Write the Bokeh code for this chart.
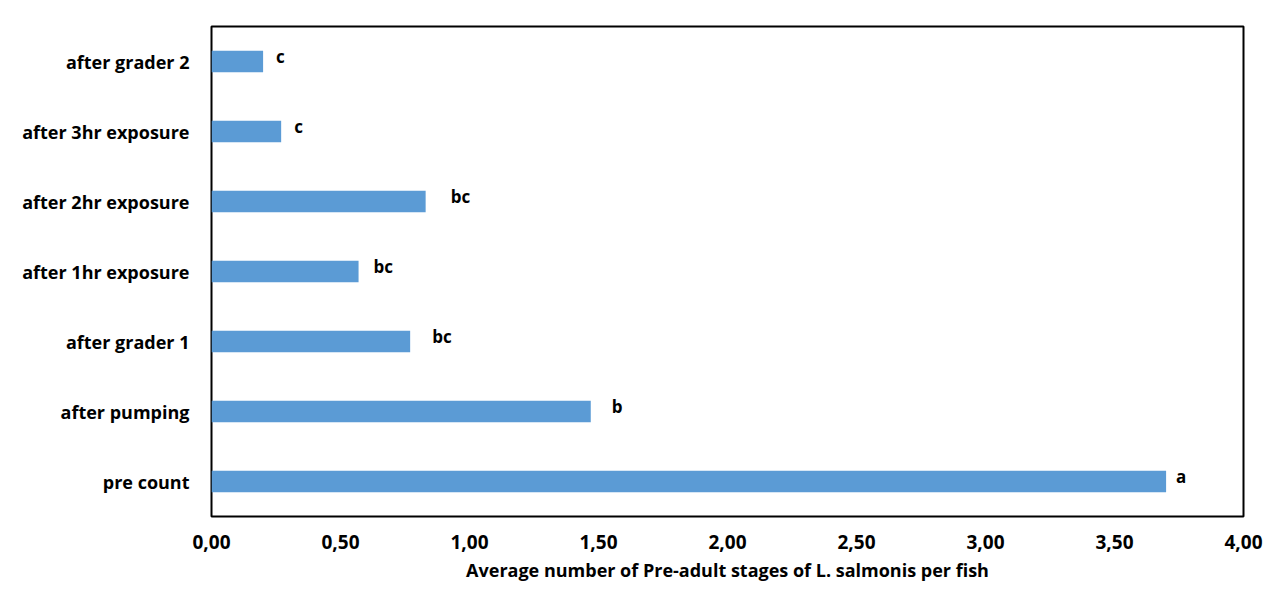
from bokeh.plotting import figure
from bokeh.models import ColumnDataSource, FactorRange, Range1d, CustomJSTickFormatter, FixedTicker, InlineStyleSheet
from bokeh.core.properties import value
from bokeh.embed import file_html
from bokeh.resources import INLINE

stages = ["pre count", "after pumping", "after grader 1", "after 1hr exposure",
          "after 2hr exposure", "after 3hr exposure", "after grader 2"]
averages = [3.70, 1.47, 0.77, 0.57, 0.83, 0.27, 0.20]
letters = ["a", "b", "bc", "bc", "bc", "c", "c"]
x_ticks = [0, 0.5, 1.0, 1.5, 2.0, 2.5, 3.0, 3.5, 4.0]

# pixel offsets of the significance letters (style only)
letter_dx = [10, 21, 22, 15, 25, 13, 13]

FONT = "Open Sans"

src = ColumnDataSource(dict(stage=stages, avg=averages, letter=letters, dx=letter_dx))

p = figure(width=1276, height=594, output_backend="svg", toolbar_location=None,
           y_range=FactorRange(factors=stages, range_padding=0),
           x_range=Range1d(0, 4.0),
           min_border_left=211, min_border_top=26, min_border_right=33, min_border_bottom=78)
p.stylesheets = [InlineStyleSheet(css=":host { outline: 2px solid #e2e2e2; outline-offset: -5px; z-index: 10; }")]

p.hbar(y="stage", right="avg", left=0, height=0.31, source=src,
       fill_color="#5B9BD5", line_color=None)

p.text(x="avg", y="stage", text="letter", source=src, x_offset="dx", y_offset=-5,
       text_font=value(FONT), text_font_style="bold", text_font_size="17px",
       text_align="left", text_baseline="middle", text_color="#000000")

p.xgrid.visible = False
p.ygrid.visible = False
p.outline_line_color = "#000000"
p.outline_line_width = 2
p.outline_line_alpha = 1

xa = p.xaxis[0]
xa.ticker = FixedTicker(ticks=x_ticks)
xa.formatter = CustomJSTickFormatter(code="return tick.toFixed(2).replace('.', ',');")
xa.axis_label = "Average number of Pre-adult stages of L. salmonis per fish"
xa.axis_label_text_font = FONT
xa.axis_label_text_font_style = "bold"
xa.axis_label_text_font_size = "18px"
xa.axis_label_text_color = "#000000"
xa.axis_label_standoff = 6
xa.major_label_text_font = FONT
xa.major_label_text_font_style = "bold"
xa.major_label_text_font_size = "19px"
xa.major_label_text_color = "#000000"
xa.major_label_standoff = 12
xa.major_tick_line_color = None
xa.minor_tick_line_color = None
xa.axis_line_color = None

ya = p.yaxis[0]
ya.major_label_text_font = FONT
ya.major_label_text_font_style = "bold"
ya.major_label_text_font_size = "18px"
ya.major_label_text_color = "#000000"
ya.major_label_standoff = 16
ya.major_tick_line_color = None
ya.minor_tick_line_color = None
ya.axis_line_color = None

open("out.html", "w").write(file_html(p, INLINE))
